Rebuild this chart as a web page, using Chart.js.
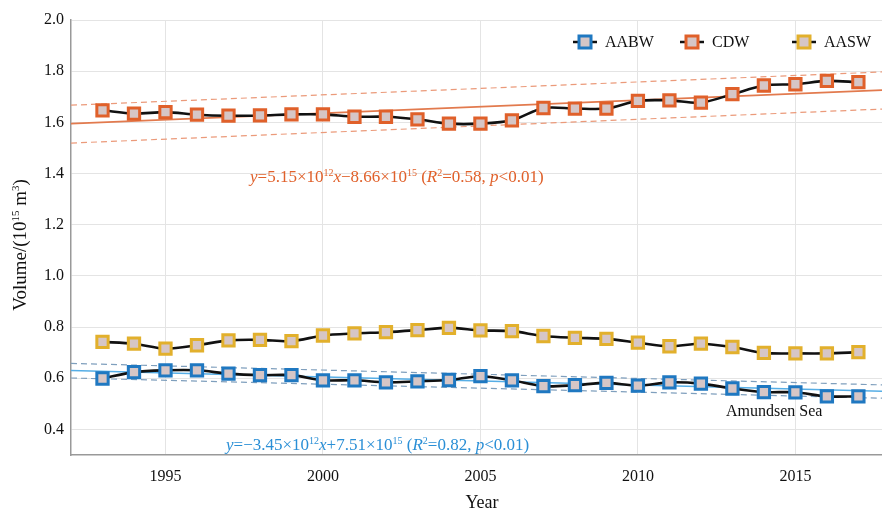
<!DOCTYPE html>
<html>
<head>
<meta charset="utf-8">
<script src="https://cdn.jsdelivr.net/npm/chart.js@4"></script>
<style>
  html, body { margin: 0; padding: 0; background: #fff; }
  #wrap { width: 882px; height: 514px; }
</style>
</head>
<body>
<div id="wrap"><canvas id="myChart" width="882" height="514"></canvas></div>
<script>
const years = [1993, 1994, 1995, 1996, 1997, 1998, 1999, 2000, 2001, 2002, 2003, 2004, 2005,
               2006, 2007, 2008, 2009, 2010, 2011, 2012, 2013, 2014, 2015, 2016, 2017];
const aabw = [0.599, 0.624, 0.631, 0.631, 0.618, 0.612, 0.612, 0.592, 0.592, 0.584, 0.588, 0.593, 0.608,
              0.592, 0.569, 0.573, 0.582, 0.571, 0.584, 0.579, 0.560, 0.546, 0.545, 0.529, 0.529];
const cdw = [1.647, 1.634, 1.640, 1.630, 1.626, 1.627, 1.631, 1.631, 1.622, 1.622, 1.612, 1.595, 1.595,
             1.608, 1.656, 1.654, 1.654, 1.684, 1.686, 1.677, 1.710, 1.744, 1.749, 1.762, 1.757];
const aasw = [0.742, 0.735, 0.716, 0.729, 0.748, 0.750, 0.745, 0.767, 0.775, 0.780, 0.788, 0.797, 0.787,
              0.784, 0.765, 0.758, 0.754, 0.739, 0.725, 0.735, 0.722, 0.699, 0.697, 0.697, 0.702];

// regression lines and their bands, read at the left and right edge of the plot
const fitX = [1992, 2017.75];
const cdwFit = [1.595, 1.726];
const cdwUpper = [1.667, 1.797];
const cdwLower = [1.519, 1.652];
const aabwFit = [0.630, 0.549];
const aabwUpper = [0.658, 0.574];
const aabwLower = [0.601, 0.522];

const xTicks = [1995, 2000, 2005, 2010, 2015];
const yTicks = [0.4, 0.6, 0.8, 1.0, 1.2, 1.4, 1.6, 1.8, 2.0];

const legendNames = ['AABW', 'CDW', 'AASW'];
const cdwEquation = [['y', 'i'], ['=5.15×10', 'n'], ['12', 's'], ['x', 'i'], ['−8.66×10', 'n'], ['15', 's'],
                     [' (', 'n'], ['R', 'i'], ['2', 's'], ['=0.58, ', 'n'], ['p', 'i'], ['<0.01)', 'n']];
const aabwEquation = [['y', 'i'], ['=−3.45×10', 'n'], ['12', 's'], ['x', 'i'], ['+7.51×10', 'n'], ['15', 's'],
                      [' (', 'n'], ['R', 'i'], ['2', 's'], ['=0.82, ', 'n'], ['p', 'i'], ['<0.01)', 'n']];
const yTitle = [['Volume/(10', 'n'], ['15', 's'], [' m', 'n'], ['3', 's'], [')', 'n']];
const xTitle = 'Year';

const FONT = '"Liberation Serif", "Times New Roman", serif';
const BLUE = '#1f78c1';
const ORANGE = '#e0602a';
const YELLOW = '#e2b02c';
const MARK_FILL = '#d6c6c6';

function pts(xs, ys) {
    return xs.map((x, i) => ({ x: x, y: ys[i] }));
}

function drawRich(ctx, parts, x, y, size, color) {
    ctx.save();
    ctx.fillStyle = color;
    ctx.textBaseline = 'alphabetic';
    ctx.textAlign = 'left';
    let cx = x;
    parts.forEach(([txt, style]) => {
        let s = size, dy = 0, st = '';
        if (style === 'i') st = 'italic ';
        if (style === 's') { s = Math.round(size * 0.6); dy = -size * 0.38; }
        ctx.font = st + s + 'px ' + FONT;
        ctx.fillText(txt, cx, y + dy);
        cx += ctx.measureText(txt).width;
    });
    ctx.restore();
    return cx - x;
}

function richWidth(ctx, parts, size) {
    let w = 0;
    parts.forEach(([txt, style]) => {
        let s = style === 's' ? Math.round(size * 0.6) : size;
        ctx.font = (style === 'i' ? 'italic ' : '') + s + 'px ' + FONT;
        w += ctx.measureText(txt).width;
    });
    return w;
}

const extras = {
    id: 'extras',
    afterDraw(chart) {
        const ctx = chart.ctx;
        // legend
        const legendX = [577, 684, 796];
        const colors = [BLUE, ORANGE, YELLOW];
        legendNames.forEach((name, i) => {
            const lx = legendX[i], ly = 42;
            ctx.save();
            ctx.strokeStyle = '#111';
            ctx.lineWidth = 2.5;
            ctx.beginPath();
            ctx.moveTo(lx - 4, ly);
            ctx.lineTo(lx + 20, ly);
            ctx.stroke();
            ctx.fillStyle = MARK_FILL;
            ctx.strokeStyle = colors[i];
            ctx.lineWidth = 3;
            ctx.fillRect(lx + 2, ly - 6, 12, 12);
            ctx.strokeRect(lx + 2, ly - 6, 12, 12);
            ctx.fillStyle = '#111';
            ctx.font = '16px ' + FONT;
            ctx.textBaseline = 'middle';
            ctx.fillText(name, lx + 28, ly + 1);
            ctx.restore();
        });
        // equations and region label
        drawRich(ctx, cdwEquation, 250, 182, 17, ORANGE);
        drawRich(ctx, aabwEquation, 226, 450, 17, '#2a8fd6');
        ctx.save();
        ctx.fillStyle = '#111';
        ctx.font = '16px ' + FONT;
        ctx.textBaseline = 'middle';
        ctx.fillText('Amundsen Sea', 726, 412);
        // x axis title
        ctx.font = '18px ' + FONT;
        ctx.textAlign = 'center';
        ctx.fillText(xTitle, 482, 503);
        ctx.restore();
        // y axis title
        ctx.save();
        ctx.translate(26, 245);
        ctx.rotate(-Math.PI / 2);
        const w = richWidth(ctx, yTitle, 19);
        drawRich(ctx, yTitle, -w / 2, 0, 19, '#111');
        ctx.restore();
    }
};

const seriesStyle = (color) => ({
    borderColor: '#111',
    borderWidth: 2.6,
    pointStyle: 'rect',
    pointRadius: 8,
    pointBorderWidth: 3,
    pointBorderColor: color,
    pointBackgroundColor: MARK_FILL,
    tension: 0.3,
    order: 1
});

const fitStyle = (color, dashed) => ({
    borderColor: color,
    borderWidth: dashed ? 1.2 : 1.6,
    borderDash: dashed ? [6, 4] : [],
    pointRadius: 0,
    order: 5
});

const ctx = document.getElementById('myChart').getContext('2d');
new Chart(ctx, {
    type: 'line',
    data: {
        datasets: [
            { label: 'CDW upper', data: pts(fitX, cdwUpper), ...fitStyle('#eb9a7a', true) },
            { label: 'CDW lower', data: pts(fitX, cdwLower), ...fitStyle('#eb9a7a', true) },
            { label: 'CDW fit', data: pts(fitX, cdwFit), ...fitStyle('#e27a4e', false) },
            { label: 'AABW upper', data: pts(fitX, aabwUpper), ...fitStyle('#7f9fbd', true) },
            { label: 'AABW lower', data: pts(fitX, aabwLower), ...fitStyle('#7f9fbd', true) },
            { label: 'AABW fit', data: pts(fitX, aabwFit), ...fitStyle('#56aee6', false) },
            { label: 'AABW', data: pts(years, aabw), ...seriesStyle(BLUE) },
            { label: 'CDW', data: pts(years, cdw), ...seriesStyle(ORANGE) },
            { label: 'AASW', data: pts(years, aasw), ...seriesStyle(YELLOW) }
        ]
    },
    options: {
        responsive: false,
        animation: false,
        layout: { autoPadding: false, padding: { top: 20, right: 0, left: 0, bottom: 0 } },
        plugins: {
            legend: { display: false },
            tooltip: { enabled: false }
        },
        scales: {
            x: {
                type: 'linear',
                min: 1992,
                max: 2017.75,
                afterBuildTicks: (scale) => { scale.ticks = xTicks.map(v => ({ value: v })); },
                afterFit: (scale) => { scale.height = 59; },
                grid: { color: '#e4e4e4', drawTicks: false, lineWidth: 1 },
                border: { color: '#999', width: 1.5 },
                ticks: { color: '#111', font: { family: FONT, size: 16 }, padding: 12,
                         callback: (v) => String(v) }
            },
            y: {
                min: 0.3,
                max: 2.0,
                afterBuildTicks: (scale) => { scale.ticks = yTicks.map(v => ({ value: v })); },
                afterFit: (scale) => { scale.width = 71; },
                grid: { color: '#e4e4e4', drawTicks: false, lineWidth: 1 },
                border: { color: '#999', width: 1.5 },
                ticks: { color: '#111', font: { family: FONT, size: 16 }, padding: 7,
                         callback: (v) => v.toFixed(1) }
            }
        }
    },
    plugins: [extras]
});
</script>
</body>
</html>
